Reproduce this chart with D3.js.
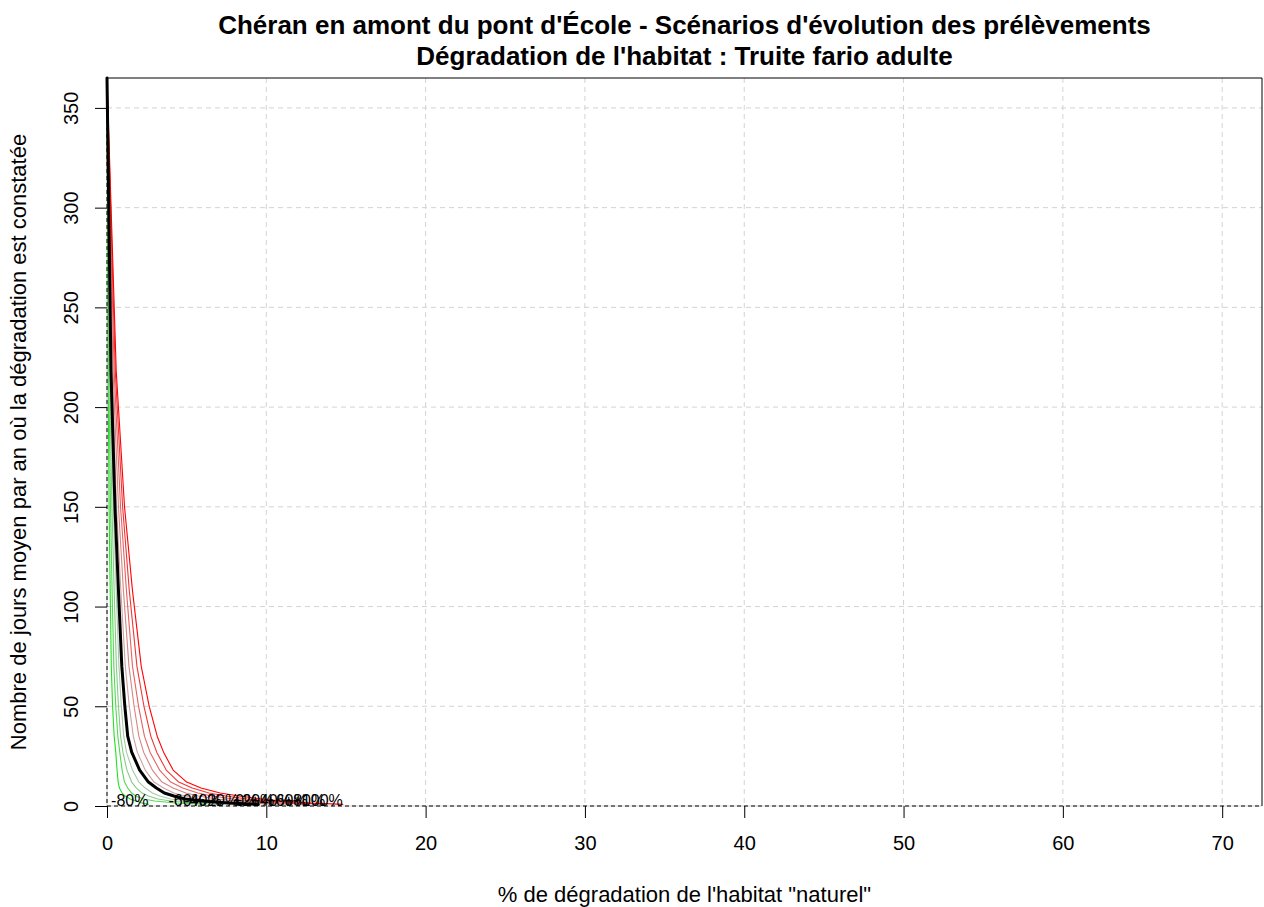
<!DOCTYPE html>
<html>
<head>
<meta charset="utf-8">
<script src="https://d3js.org/d3.v7.min.js"></script>
<style>
  html, body { margin: 0; padding: 0; background: #fff; }
  text { font-family: "Liberation Sans", Arial, Helvetica, sans-serif; }
</style>
</head>
<body>
<svg id="chart" width="1264" height="907"></svg>
<script>
// ---- data ----
const titleLines = ["Chéran en amont du pont d'École - Scénarios d'évolution des prélèvements",
                    "Dégradation de l'habitat : Truite fario adulte"];
const xTitle = "% de dégradation de l'habitat \"naturel\"";
const yTitle = "Nombre de jours moyen par an où la dégradation est constatée";
const xTicks = [0, 10, 20, 30, 40, 50, 60, 70];
const yTicks = [0, 50, 100, 150, 200, 250, 300, 350];

const scenarios = ["-80%", "-60%", "-40%", "-20%", "0%", "+20%", "+40%", "+60%", "+80%", "+100%"];
// number of days per year (shared levels of each curve)
const dayLevels = [365, 218, 150, 108, 70, 50, 35, 27, 18, 12, 9, 6.5, 5, 3.5, 2.5, 1.5, 0.8];
// % degradation reached at each level, per scenario
const degM80  = [0, 0.07, 0.13, 0.2, 0.27, 0.35, 0.45, 0.55, 0.63, 0.7, 0.78, 0.95, 1.15, 1.45, 1.8, 2.2, 2.6];
const degM60  = [0, 0.11, 0.22, 0.32, 0.43, 0.55, 0.68, 0.8, 0.95, 1.1, 1.3, 1.55, 1.8, 2.3, 3.0, 4.3, 6.2];
const degM40  = [0, 0.16, 0.31, 0.45, 0.59, 0.72, 0.85, 1.0, 1.25, 1.55, 1.85, 2.2, 2.6, 3.2, 4.0, 5.4, 7.2];
const degM20  = [0, 0.2, 0.4, 0.58, 0.75, 0.9, 1.05, 1.22, 1.6, 2.0, 2.4, 2.85, 3.3, 4.0, 5.0, 6.5, 8.3];
const deg0    = [0, 0.25, 0.5, 0.72, 0.93, 1.12, 1.3, 1.55, 2.05, 2.6, 3.1, 3.6, 4.2, 4.9, 6.0, 7.6, 9.5];
const degP20  = [0, 0.31, 0.6, 0.87, 1.15, 1.4, 1.65, 1.9, 2.4, 2.95, 3.55, 4.2, 4.9, 5.9, 7.1, 8.7, 10.5];
const degP40  = [0, 0.38, 0.72, 1.03, 1.38, 1.7, 2.0, 2.3, 2.85, 3.45, 4.15, 4.95, 5.75, 6.9, 8.1, 9.8, 11.6];
const degP60  = [0, 0.45, 0.85, 1.22, 1.6, 1.98, 2.35, 2.7, 3.3, 4.0, 4.75, 5.7, 6.6, 7.9, 9.1, 10.9, 12.6];
const degP80  = [0, 0.52, 0.98, 1.4, 1.88, 2.32, 2.75, 3.12, 3.72, 4.5, 5.35, 6.4, 7.45, 8.8, 10.1, 11.9, 13.7];
const degP100 = [0, 0.58, 1.1, 1.6, 2.15, 2.65, 3.15, 3.55, 4.15, 5.0, 5.9, 7.1, 8.3, 9.7, 11.0, 12.8, 14.8];
const scenarioDeg = [degM80, degM60, degM40, degM20, deg0, degP20, degP40, degP60, degP80, degP100];

// ---- styles ----
const scenarioColors = ["#22E022", "#55D855", "#86CC86", "#AAC8AA", "#000000",
                        "#CCA2A2", "#D88484", "#E46262", "#F03636", "#FF0000"];

const W = 1264, H = 907;
const plot = { left: 107, right: 1262, top: 78, bottom: 806 };

const svg = d3.select("#chart");
const x = d3.scaleLinear().domain([0, 72.5]).range([plot.left, plot.right]);
const y = d3.scaleLinear().domain([0, 365]).range([plot.bottom, plot.top]);

// grid
const grid = svg.append("g").attr("stroke", "#D3D3D3").attr("stroke-width", 1)
  .attr("stroke-dasharray", "5,4").attr("fill", "none");
grid.selectAll("line.gx").data(xTicks.filter(d => d > 0)).join("line")
  .attr("x1", d => x(d)).attr("x2", d => x(d)).attr("y1", plot.top).attr("y2", plot.bottom);
grid.selectAll("line.gy").data(yTicks.filter(d => d > 0)).join("line")
  .attr("x1", plot.left).attr("x2", plot.right).attr("y1", d => y(d)).attr("y2", d => y(d));

// light edges under the dashed reference lines
svg.append("line").attr("x1", x(0)).attr("x2", x(0)).attr("y1", plot.top).attr("y2", plot.bottom)
  .attr("stroke", "#D3D3D3");
svg.append("line").attr("x1", plot.left).attr("x2", plot.right).attr("y1", y(0)).attr("y2", y(0))
  .attr("stroke", "#D3D3D3");

// curves
const line = d3.line().x(d => x(d[0])).y(d => y(d[1]));
const series = scenarios.map((s, i) => ({
  name: s, color: scenarioColors[i],
  pts: scenarioDeg[i].map((v, j) => [v, dayLevels[j]])
}));
const order = series.filter(s => s.name !== "0%").concat(series.filter(s => s.name === "0%"));
svg.append("g").selectAll("path").data(order).join("path")
  .attr("d", d => line(d.pts))
  .attr("fill", "none")
  .attr("stroke", d => d.color)
  .attr("stroke-width", d => d.name === "0%" ? 3 : 1.1)
  .attr("stroke-linejoin", "round").attr("stroke-linecap", "round");

// dashed reference lines
svg.append("line").attr("x1", x(0)).attr("x2", x(0)).attr("y1", plot.top).attr("y2", plot.bottom)
  .attr("stroke", "#000").attr("stroke-dasharray", "4,3");
svg.append("line").attr("x1", plot.left).attr("x2", plot.right).attr("y1", y(0)).attr("y2", y(0))
  .attr("stroke", "#000").attr("stroke-dasharray", "4,3");

// labels at curve ends
svg.append("g").selectAll("text").data(series).join("text")
  .attr("x", d => x(d.pts[d.pts.length - 1][0]))
  .attr("y", y(0) - 0.5)
  .attr("text-anchor", "end")
  .attr("font-size", 16)
  .attr("fill", "#000")
  .text(d => d.name);

// box: top and right
svg.append("path")
  .attr("d", `M${plot.left},${plot.top}H${plot.right}V${plot.bottom}`)
  .attr("fill", "none").attr("stroke", "#000").attr("stroke-width", 1);

// axes
const xAxis = d3.axisBottom(x).tickValues(xTicks).tickSize(12).tickPadding(20).tickFormat(d3.format("d"));
const gx = svg.append("g").attr("transform", `translate(0,${plot.bottom})`).call(xAxis);
gx.select(".domain").remove();
gx.selectAll("text").attr("font-size", 20).attr("font-family", null).attr("dy", null)
  .attr("y", 44);
gx.selectAll("line").attr("stroke", "#000");

const yAxis = d3.axisLeft(y).tickValues(yTicks).tickSize(12).tickFormat(d3.format("d"));
const gy = svg.append("g").attr("transform", `translate(${plot.left},0)`).call(yAxis);
gy.select(".domain").remove();
gy.selectAll("line").attr("stroke", "#000");
gy.selectAll("text").attr("font-size", 20).attr("font-family", null)
  .attr("x", null).attr("dy", null)
  .attr("text-anchor", "middle")
  .attr("transform", "translate(-29,0) rotate(-90)");

// titles
svg.append("text").attr("x", (plot.left + plot.right) / 2).attr("y", 34)
  .attr("text-anchor", "middle").attr("font-size", 26).attr("font-weight", "bold").text(titleLines[0]);
svg.append("text").attr("x", (plot.left + plot.right) / 2).attr("y", 65)
  .attr("text-anchor", "middle").attr("font-size", 26).attr("font-weight", "bold").text(titleLines[1]);
svg.append("text").attr("x", (plot.left + plot.right) / 2).attr("y", 902)
  .attr("text-anchor", "middle").attr("font-size", 22).text(xTitle);
svg.append("text").attr("transform", `translate(26,${(plot.top + plot.bottom) / 2}) rotate(-90)`)
  .attr("text-anchor", "middle").attr("font-size", 22).text(yTitle);
</script>
</body>
</html>
